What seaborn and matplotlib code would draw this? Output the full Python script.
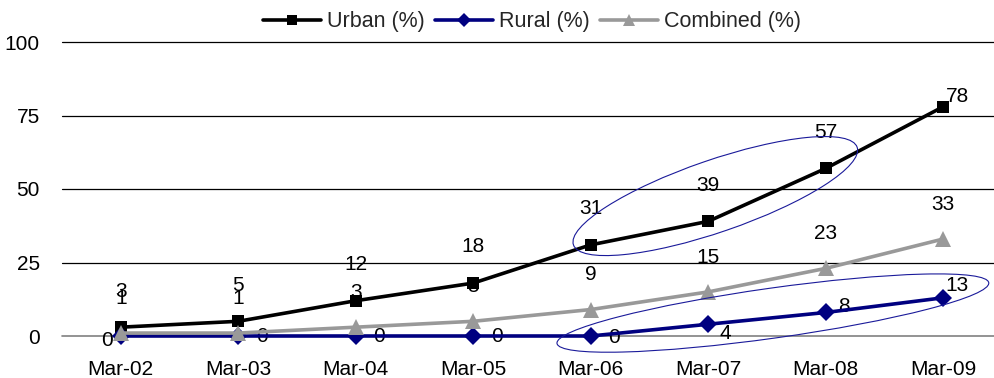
import matplotlib
matplotlib.use("Agg")
import matplotlib.pyplot as plt
import matplotlib.transforms as mtransforms
from matplotlib.patches import Ellipse
import pandas as pd
import seaborn as sns

# Data
periods = ["Mar-02", "Mar-03", "Mar-04", "Mar-05", "Mar-06", "Mar-07", "Mar-08", "Mar-09"]
urban = [3, 5, 12, 18, 31, 39, 57, 78]
rural = [0, 0, 0, 0, 0, 4, 8, 13]
combined = [1, 1, 3, 5, 9, 15, 23, 33]
series_names = ["Urban (%)", "Rural (%)", "Combined (%)"]
y_ticks = [0, 25, 50, 75, 100]

sns.set_theme(style="white")
plt.rcParams["font.family"] = ["Liberation Sans", "DejaVu Sans"]

df = pd.DataFrame({
    "period": periods * 3,
    "idx": list(range(len(periods))) * 3,
    "value": urban + rural + combined,
    "series": [series_names[0]] * len(periods)
    + [series_names[1]] * len(periods)
    + [series_names[2]] * len(periods),
})

fig = plt.figure(figsize=(9.94, 3.78), dpi=100)
ax = fig.add_axes([62 / 994, 42 / 378, 940 / 994, 294 / 378])

palette = {"Urban (%)": "#000000", "Rural (%)": "#000080", "Combined (%)": "#999999"}
markers = {"Urban (%)": "s", "Rural (%)": "D", "Combined (%)": "^"}

# horizontal gridlines behind the series
for t in y_ticks[1:]:
    ax.axhline(t, color="#000000", lw=0.9, zorder=0)
ax.axhline(0, color="#808080", lw=1.2, zorder=0)

sns.lineplot(
    data=df, x="idx", y="value", hue="series", style="series",
    palette=palette, markers=markers, dashes=False, markersize=9,
    linewidth=2.6, markeredgewidth=0, ax=ax, legend=True,
    hue_order=series_names, style_order=series_names,
)
for ln in ax.lines:
    ln.set_clip_on(False)
    if ln.get_marker() == "^":
        ln.set_markersize(11)

ax.set_xlim(-0.5, len(periods) - 0.5)
ax.set_ylim(0, 100)
ax.set_xticks(range(len(periods)))
ax.set_xticklabels(periods)
ax.set_yticks(y_ticks)
ax.set_yticklabels([str(t) for t in y_ticks])
ax.tick_params(axis="both", labelsize=15, length=0, colors="#000000")
ax.tick_params(axis="y", pad=16)
ax.tick_params(axis="x", pad=17)
ax.set_xlabel("")
ax.set_ylabel("")
for s in ax.spines.values():
    s.set_visible(False)

# value labels (offsets in points)
lbl = dict(fontsize=15, color="#000000", ha="center", va="center",
           textcoords="offset points", zorder=1)
for i, v in enumerate(urban):
    if i == len(urban) - 1:
        ax.annotate(str(v), (i, v), xytext=(2, 7), **{**lbl, "ha": "left"})
    else:
        ax.annotate(str(v), (i, v), xytext=(0, 26), **lbl)
for i, v in enumerate(combined):
    ax.annotate(str(v), (i, v), xytext=(0, 25), **lbl)
rural_off = [(-10, -3), (17, 0), (17, 0), (17, 0), (17, -1), (12, -7), (13, 4), (10, 9)]
for i, v in enumerate(rural):
    dx, dy = rural_off[i]
    ax.annotate(str(v), (i, v), xytext=(dx, dy), **lbl)

# highlight ellipses (size in pixels, centred in data coordinates)
def ring(cx, cy, w, h, angle):
    tr = mtransforms.Affine2D() + mtransforms.ScaledTranslation(cx, cy, ax.transData)
    e = Ellipse((0, 0), w, h, angle=angle, transform=tr, fill=False,
                edgecolor="#1a1a9a", lw=0.8, clip_on=False, zorder=5)
    ax.add_patch(e)

ring(5.06, 47.6, 300, 72, 19)
ring(5.55, 7.8, 436, 50, 8)

leg = ax.legend(loc="center", bbox_to_anchor=(0.5, 1 + 20 / 294), ncol=3,
                frameon=False, fontsize=15.5, handlelength=2.7,
                handletextpad=0.3, columnspacing=0.45, borderaxespad=0,
                borderpad=0)
for h in leg.legend_handles:
    h.set_markersize(8 if h.get_marker() == "^" else 7)

fig.savefig("out.png", dpi=100)
